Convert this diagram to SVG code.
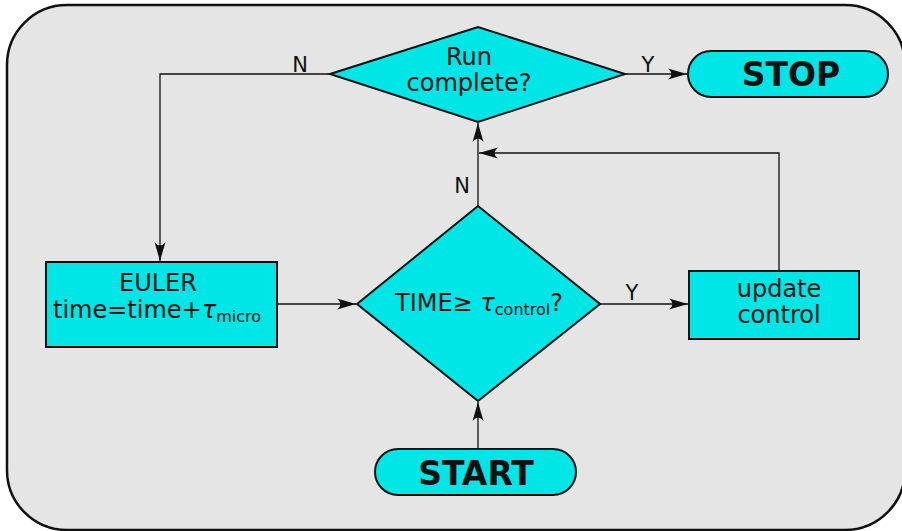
<svg xmlns="http://www.w3.org/2000/svg" width="902" height="531" viewBox="0 0 902 531">
  <style>
    .node { fill: #00e5e5; stroke: #111; stroke-width: 2; }
    .conn { fill: none; stroke: #111; stroke-width: 1.3; }
    .lbl { font-family: "DejaVu Sans", "Liberation Sans", sans-serif; font-size: 24px; fill: #111; }
    .big { font-family: "DejaVu Sans", "Liberation Sans", sans-serif; font-weight: bold; font-size: 33px; fill: #111; }
    .tag { font-family: "DejaVu Sans", "Liberation Sans", sans-serif; font-size: 21px; fill: #111; }
    .sub { font-size: 16px; }
    .tau { font-style: italic; }
  </style>
  <defs>
    <marker id="arrow" viewBox="-20 -7 22 14" refX="0" refY="0" markerWidth="22" markerHeight="14" markerUnits="userSpaceOnUse" orient="auto">
      <path d="M0,0 L-19,-5.5 Q-12,0 -19,5.5 Z" fill="#111"/>
    </marker>
  </defs>

  <!-- panel -->
  <rect x="7" y="5" width="898" height="525" rx="60" ry="60" fill="#e5e5e5" stroke="#111" stroke-width="2.5"/>

  <!-- connectors -->
  <g id="connectors">
    <path class="conn" d="M330,74 H160 V261" marker-end="url(#arrow)"/>
    <path class="conn" d="M625,74 H687" marker-end="url(#arrow)"/>
    <path class="conn" d="M277,304 H356" marker-end="url(#arrow)"/>
    <path class="conn" d="M600,304 H688" marker-end="url(#arrow)"/>
    <path class="conn" d="M779,271 V153 H479" marker-end="url(#arrow)"/>
    <path class="conn" d="M478,206 V123" marker-end="url(#arrow)"/>
    <path class="conn" d="M478,449 V402" marker-end="url(#arrow)"/>
    <text class="tag" x="300" y="72" text-anchor="middle">N</text>
    <text class="tag" x="648" y="72" text-anchor="middle">Y</text>
    <text class="tag" x="462" y="193" text-anchor="middle">N</text>
    <text class="tag" x="632" y="300" text-anchor="middle">Y</text>
  </g>

  <g id="run-complete">
    <polygon class="node" points="330,74 478,27 625,74 478,122"/>
    <text class="lbl" x="469" y="65" text-anchor="middle">Run</text>
    <text class="lbl" x="469" y="91" text-anchor="middle">complete?</text>
  </g>

  <g id="stop">
    <rect class="node" x="688" y="51" width="200" height="46" rx="23" ry="23"/>
    <text class="big" x="791" y="86" text-anchor="middle">STOP</text>
  </g>

  <g id="euler">
    <rect class="node" x="46" y="262" width="231" height="85"/>
    <text class="lbl" x="158" y="291" text-anchor="middle">EULER</text>
    <text class="lbl" x="157" y="318" text-anchor="middle">time=time+<tspan class="tau">τ</tspan><tspan class="sub" dy="4">micro</tspan></text>
  </g>

  <g id="time-check">
    <polygon class="node" points="357,304 478,206 600,304 478,401"/>
    <text class="lbl" x="479" y="311" text-anchor="middle">TIME≥ <tspan class="tau">τ</tspan><tspan class="sub" dy="4">control</tspan><tspan dy="-4">?</tspan></text>
  </g>

  <g id="update-control">
    <rect class="node" x="689" y="271" width="170" height="68"/>
    <text class="lbl" x="779" y="297" text-anchor="middle">update</text>
    <text class="lbl" x="779" y="323" text-anchor="middle">control</text>
  </g>

  <g id="start">
    <rect class="node" x="375" y="449" width="201" height="46" rx="23" ry="23"/>
    <text class="big" x="476" y="485" text-anchor="middle">START</text>
  </g>
</svg>
